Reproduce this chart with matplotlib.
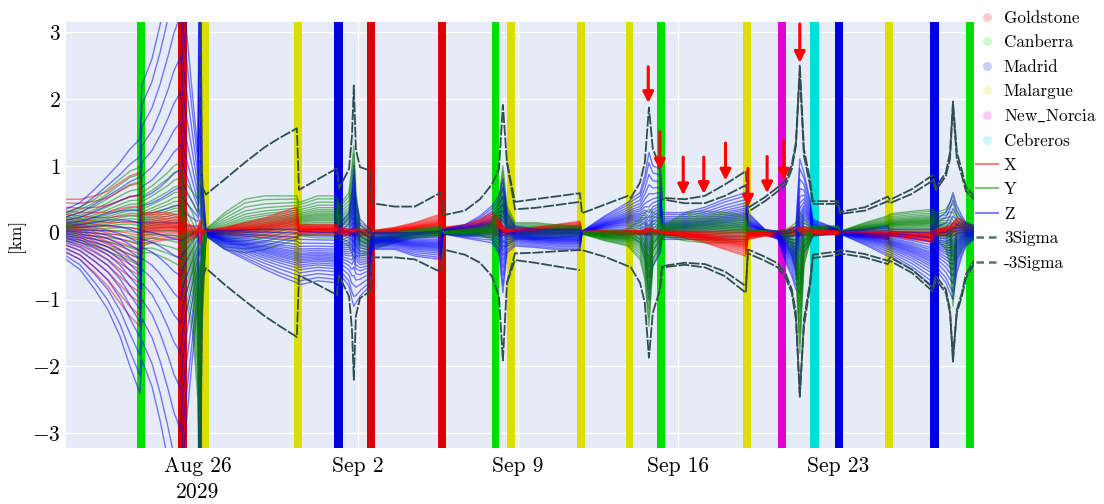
import numpy as np
import matplotlib
matplotlib.use("Agg")
import matplotlib.pyplot as plt
import matplotlib.dates as mdates
from matplotlib.lines import Line2D

nan = np.nan

# ---------------- data ----------------
epoch = np.datetime64("2029-08-26T00:00")

# node times, days after 2029-08-26 00:00
t_days = [-5.77, -5.16, -4.51, -3.94, -3.41, -2.97, -2.54, -2.45, -2.01, -1.66,
          -1.31, -1.05, -0.74, -0.66, -0.22, 0.00, 0.09, 0.17, 0.35, 1.18,
          2.06, 2.93, 3.59, 4.33, 4.42, 5.25, 6.08, 6.17, 6.61, 6.74,
          6.82, 6.91, 7.09, 7.52, 7.61, 8.62, 9.49, 10.63, 10.72, 11.68,
          12.34, 12.86, 13.17, 13.34, 13.52, 13.87, 14.74, 15.62, 16.71, 16.80,
          17.80, 18.81, 18.94, 19.34, 19.55, 19.73, 19.90, 20.21, 20.30, 21.30,
          22.18, 23.05, 23.97, 24.06, 24.80, 25.37, 25.72, 25.98, 26.16, 26.33,
          26.51, 26.77, 26.90, 28.00, 28.09, 29.18, 30.18, 30.27, 31.23, 32.15,
          32.28, 32.72, 32.90, 33.03, 33.20, 33.42, 33.60, 33.95]

# Monte Carlo spread of the X / Y / Z errors [km]: lower and upper edge of each fan
x_lo = [-0.30, -0.40, -0.60, -0.80, -1.05, -1.25, -1.40, -0.20, -0.15, -0.12,
        -0.10, -0.10, -0.10, -0.20, -0.10, -0.05, -0.20, -0.05, -0.03, -0.03,
        -0.05, -0.07, -0.08, -0.10, -0.03, -0.03, -0.03, -0.03, -0.05, -0.05,
        -0.05, -0.05, -0.05, -0.05, -0.02, -0.02, -0.02, -0.02, 0.00, -0.01,
        -0.01, -0.02, -0.05, -0.05, -0.03, -0.02, -0.02, -0.02, -0.02, -0.01,
        -0.03, -0.03, -0.03, -0.03, -0.03, -0.05, -0.03, -0.03, -0.02, -0.08,
        -0.15, -0.25, -0.35, -0.10, -0.05, -0.08, -0.08, -0.05, -0.05, -0.05,
        -0.05, -0.05, -0.03, -0.03, -0.02, -0.06, -0.10, -0.05, -0.10, -0.15,
        -0.05, -0.05, -0.05, -0.05, -0.02, 0.00, 0.00, -0.05]
x_hi = [0.50, 0.50, 0.55, 0.62, 0.75, 0.85, 0.90, 0.30, 0.30, 0.30,
        0.30, 0.28, 0.25, 0.15, 0.10, 0.05, 0.20, 0.05, 0.03, 0.08,
        0.15, 0.22, 0.30, 0.38, 0.12, 0.12, 0.12, 0.08, 0.05, 0.05,
        0.05, 0.05, 0.05, 0.05, 0.03, 0.08, 0.15, 0.28, 0.08, 0.12,
        0.20, 0.30, 0.20, 0.10, 0.05, 0.05, 0.08, 0.12, 0.17, 0.02,
        0.03, 0.03, 0.03, 0.03, 0.05, 0.08, 0.05, 0.03, 0.02, 0.02,
        0.02, 0.02, 0.02, 0.02, 0.02, 0.02, 0.03, 0.08, 0.08, 0.08,
        0.08, 0.08, 0.03, 0.03, 0.02, 0.02, 0.02, 0.02, 0.02, 0.02,
        0.05, 0.08, 0.10, 0.15, 0.22, 0.20, 0.15, 0.10]
y_lo = [-0.12, -0.15, -0.20, -0.28, -0.35, -0.42, -0.50, -0.30, -0.30, -0.35,
        -0.40, -0.45, -0.50, -0.80, -1.50, -2.50, -5.00, -1.50, -0.05, -0.25,
        -0.30, -0.25, -0.18, -0.10, -0.05, -0.08, -0.08, -0.10, -0.20, -0.30,
        -0.40, -0.35, -0.35, -0.30, -0.25, -0.15, -0.08, -0.05, -0.02, -0.05,
        -0.05, -0.10, -0.30, -0.20, -0.20, -0.10, -0.10, -0.08, -0.05, -0.02,
        -0.12, -0.20, -0.25, -0.40, -0.70, -1.40, -0.50, -0.30, -0.05, -0.12,
        -0.15, -0.15, -0.12, -0.03, -0.03, -0.05, -0.15, -0.35, -0.60, -1.80,
        -0.50, -0.15, -0.05, 0.00, -0.02, -0.02, -0.03, -0.02, -0.02, -0.02,
        -0.10, -0.25, -0.50, -1.10, -0.40, -0.25, -0.15, -0.10]
y_hi = [0.30, 0.38, 0.50, 0.65, 0.80, 0.92, 0.98, 0.60, 0.70, 0.80,
        0.90, 1.00, 1.05, 0.80, 0.60, 0.50, 1.00, 0.30, 0.05, 0.30,
        0.50, 0.55, 0.55, 0.55, 0.45, 0.55, 0.55, 0.40, 0.60, 1.00,
        1.30, 0.60, 0.15, 0.05, 0.02, 0.02, 0.05, 0.10, 0.02, 0.05,
        0.08, 0.15, 0.50, 1.00, 0.40, 0.15, 0.15, 0.12, 0.10, 0.02,
        0.02, 0.05, 0.10, 0.20, 0.30, 0.35, 0.30, 0.25, 0.10, 0.30,
        0.32, 0.30, 0.25, 0.05, 0.03, 0.03, 0.05, 0.10, 0.15, 0.30,
        0.20, 0.10, 0.10, 0.10, 0.02, 0.15, 0.25, 0.28, 0.32, 0.35,
        0.30, 0.35, 0.45, 0.55, 0.30, 0.20, 0.15, 0.10]
z_lo = [-0.40, -0.55, -0.85, -1.15, -1.55, -2.00, -2.40, -1.90, -2.30, -2.80,
        -3.40, -3.90, -4.30, -3.40, -1.80, -1.00, -6.00, -1.00, -0.05, -0.25,
        -0.40, -0.55, -0.65, -0.75, -0.78, -0.72, -0.75, -0.60, -0.80, -1.00,
        -1.10, -1.05, -0.95, -0.80, -0.25, -0.25, -0.35, -0.40, -0.02, -0.08,
        -0.12, -0.15, -0.30, -0.90, -0.30, -0.20, -0.22, -0.25, -0.25, -0.02,
        -0.02, -0.05, -0.05, -0.15, -0.40, -1.00, -0.50, -0.30, -0.10, -0.10,
        -0.10, -0.10, -0.10, -0.05, -0.02, -0.10, -0.45, -0.65, -0.85, -0.90,
        -0.30, -0.15, -0.05, -0.02, -0.02, -0.18, -0.35, -0.35, -0.55, -0.80,
        -0.55, -0.75, -0.90, -1.00, -0.60, -0.35, -0.20, -0.10]
z_hi = [0.35, 0.45, 0.65, 0.85, 1.05, 1.25, 1.40, 2.20, 2.60, 3.10,
        3.70, 4.20, 4.60, 3.60, 2.00, 1.20, 6.00, 1.00, 0.05, 0.03,
        0.04, 0.05, 0.05, 0.05, 0.02, 0.00, 0.00, 0.10, 0.30, 0.60,
        1.00, 0.50, 0.20, 0.05, 0.00, 0.00, 0.00, 0.02, 0.05, 0.12,
        0.25, 0.40, 0.55, 0.80, 0.30, 0.10, 0.05, 0.05, 0.05, 0.02,
        0.25, 0.45, 0.50, 0.60, 0.85, 1.20, 1.00, 0.95, 0.30, 0.30,
        0.38, 0.50, 0.60, 0.30, 0.05, 0.02, 0.02, 0.05, 0.10, 1.10,
        0.90, 0.50, 0.20, 0.05, 0.02, 0.05, 0.10, 0.05, 0.05, 0.05,
        0.20, 0.30, 0.45, 0.60, 0.40, 0.25, 0.15, 0.10]

# relative position of each Monte Carlo sample inside the fan
mc_fractions = [0.00, 0.07, 0.15, 0.22, 0.28, 0.33, 0.37, 0.41, 0.44, 0.47,
                0.50, 0.53, 0.56, 0.59, 0.63, 0.67, 0.72, 0.78, 0.85, 0.93, 1.00]

# 3-sigma envelopes [km]
sig_hi = [nan] * 16 + [
    6.00, 0.70, 0.57, 0.80,
    1.05, 1.28, 1.42, 1.56, 0.64, 0.80, 0.96, 0.66, 0.95, 1.45,
    2.20, 1.25, 0.98, 0.93, 0.44, 0.39, 0.39, 0.60, 0.26, 0.33,
    0.50, 0.72, 0.95, 1.91, 1.05, 0.46, 0.50, 0.54, 0.59, 0.29,
    0.42, 0.55, 0.52, 0.75, 1.05, 1.87, 1.25, 1.00, 0.52, 0.50,
    0.55, 0.72, 0.92, 0.37, 0.53, 0.68, 0.78, 1.02, 1.35, 2.50,
    1.25, 0.80, 0.47, 0.47, 0.31, 0.38, 0.54, 0.49, 0.65, 0.86,
    0.68, 0.90, 1.20, 1.96, 1.20, 0.93, 0.68, 0.55]
sig_lo = [nan] * 16 + [
    -6.00, -0.70, -0.53, -0.78,
    -1.02, -1.25, -1.40, -1.56, -0.64, -0.78, -0.93, -0.64, -0.95, -1.45,
    -2.20, -1.25, -0.98, -0.88, -0.37, -0.37, -0.40, -0.59, -0.25, -0.33,
    -0.45, -0.65, -0.95, -1.91, -0.75, -0.31, -0.30, -0.28, -0.26, -0.26,
    -0.36, -0.50, -0.52, -0.75, -1.05, -1.87, -1.20, -0.85, -0.52, -0.48,
    -0.52, -0.65, -0.90, -0.25, -0.36, -0.46, -0.62, -0.85, -1.20, -2.47,
    -1.30, -0.75, -0.33, -0.28, -0.26, -0.32, -0.42, -0.37, -0.55, -0.82,
    -0.64, -0.85, -1.15, -1.93, -1.15, -0.90, -0.62, -0.42]
sig2_hi = [nan] * 44 + [
    1.05, 0.35, 0.37, 0.41, 0.46, nan,
    nan, nan, nan, nan, nan, nan, nan, 1.00, 0.50, 0.44,
    0.44, 0.55, 0.71, 0.31, 0.47, 0.62, 0.72, 0.95, 1.30, 2.40,
    1.15, 0.72, 0.43, 0.43, 0.28, 0.33, 0.47, 0.44, 0.58, 0.78,
    0.63, 0.85, 1.10, 1.90, 1.10, 0.85, 0.62, 0.50]
sig2_lo = [nan] * 44 + [
    -0.75, -0.41, -0.45, -0.50, -0.56, nan,
    nan, nan, nan, nan, nan, nan, nan, -0.85, -0.50, -0.45,
    -0.47, -0.58, -0.80, -0.31, -0.42, -0.52, -0.68, -0.90, -1.30, -2.40,
    -1.40, -0.82, -0.38, -0.33, -0.31, -0.37, -0.47, -0.42, -0.60, -0.88,
    -0.70, -0.90, -1.20, -1.85, -1.20, -0.95, -0.68, -0.47]

# tracking passes (station, start day, end day)
pass_station = ["Canberra", "Goldstone", "Malargue", "Malargue", "Madrid", "Goldstone",
                "Goldstone", "Canberra", "Malargue", "Malargue", "Malargue", "Canberra",
                "Malargue", "New_Norcia", "Cebreros", "Madrid", "Malargue", "Madrid",
                "Canberra"]
pass_start = [-2.67, -0.87, 0.17, 4.20, 5.95, 7.39, 10.50, 12.86, 13.52, 16.58,
              18.72, 20.08, 23.84, 25.37, 26.77, 27.87, 30.05, 32.02, 33.60]
pass_end = [-2.32, -0.48, 0.48, 4.55, 6.34, 7.74, 10.85, 13.17, 13.87, 16.93,
            19.03, 20.43, 24.19, 25.72, 27.17, 28.22, 30.40, 32.42, 33.95]

stations = ["Goldstone", "Canberra", "Madrid", "Malargue", "New_Norcia", "Cebreros"]

# red arrows marking features (day, tail km, tip km)
arrow_day = [19.70, 20.21, 21.23, 22.13, 23.08, 24.06, 24.90, 25.63, 26.33]
arrow_tail = [2.48, 1.51, 1.13, 1.13, 1.34, 0.96, 1.14, 1.36, 3.12]
arrow_tip = [1.94, 0.93, 0.56, 0.58, 0.78, 0.39, 0.59, 0.78, 2.54]

tick_dates = ["2029-08-26", "2029-09-02", "2029-09-09", "2029-09-16", "2029-09-23"]
tick_labels = ["Aug 26\n2029", "Sep 2", "Sep 9", "Sep 16", "Sep 23"]
y_ticks = [-3, -2, -1, 0, 1, 2, 3]

# ---------------- styling ----------------
plt.rcParams["font.family"] = "cmr10"
plt.rcParams["mathtext.fontset"] = "cm"
plt.rcParams["axes.formatter.use_mathtext"] = True

station_colors = {"Goldstone": "#dd0000", "Canberra": "#00dd00", "Madrid": "#0000dd",
                  "Malargue": "#dddd00", "New_Norcia": "#dd00dd", "Cebreros": "#00dddd"}
sigma_color = "#2F4F4F"


def to_num(days):
    d = np.asarray(days, dtype=float)
    dt = epoch + np.round(d * 1440).astype(int).astype("timedelta64[m]")
    return mdates.date2num(dt)


fig = plt.figure(figsize=(11.04, 5.04), dpi=100)
ax = fig.add_axes([66 / 1104, 1 - 448 / 504, (974 - 66) / 1104, (448 - 22) / 504])
ax.set_facecolor("#E5ECF6")
for s in ax.spines.values():
    s.set_visible(False)

tn = to_num(t_days)

# station passes
ps = to_num(pass_start)
pe = to_num(pass_end)
for st, a, b in zip(pass_station, ps, pe):
    ax.axvspan(a, b, color=station_colors[st], lw=0, zorder=1)

# Monte Carlo samples
xl, xh = np.array(x_lo), np.array(x_hi)
yl, yh = np.array(y_lo), np.array(y_hi)
zl, zh = np.array(z_lo), np.array(z_hi)
for f in mc_fractions:
    for lo, hi, col in ((xl, xh, "red"), (yl, yh, "green"), (zl, zh, "blue")):
        ax.plot(tn, lo + f * (hi - lo), color=col, alpha=0.5, lw=1.0, zorder=2)

# sigma envelopes
dash = (0, (6, 1.0))
for arr in (sig_hi, sig_lo, sig2_hi, sig2_lo):
    ax.plot(tn, arr, color=sigma_color, lw=1.3, ls=dash, zorder=3)

# arrows
an = to_num(arrow_day)
for x, y0, y1 in zip(an, arrow_tail, arrow_tip):
    ax.annotate("", xy=(x, y1), xytext=(x, y0),
                arrowprops=dict(arrowstyle="-|>", color="red", lw=2.2,
                                mutation_scale=16, shrinkA=0, shrinkB=0),
                zorder=5)

ax.set_xlim(to_num(-5.77), to_num(33.95))
ax.set_ylim(-3.22, 3.15)
ax.set_xticks(mdates.date2num(np.array(tick_dates, dtype="datetime64[D]")))
ax.set_xticklabels(tick_labels)
for lab in ax.get_xticklabels():
    lab.set_linespacing(1.45)
ax.set_yticks(y_ticks)
ax.set_yticklabels([r"$%d$" % v for v in y_ticks])
ax.tick_params(axis="both", length=0, labelsize=15.5)
ax.tick_params(axis="x", pad=6)
ax.tick_params(axis="y", pad=4)
ax.grid(color="white", lw=1.0)
ax.set_axisbelow(True)
ax.set_ylabel("[km]", fontsize=12.5, labelpad=5)

handles = []
labels = []
for st in stations:
    handles.append(Line2D([], [], ls="", marker="o", markersize=6.5, markeredgewidth=0,
                          color=station_colors[st], alpha=0.2))
    labels.append(r"$\mathrm{New\_Norcia}$" if st == "New_Norcia" else st)
for col, lab in (("red", "X"), ("green", "Y"), ("blue", "Z")):
    handles.append(Line2D([], [], color=col, alpha=0.5, lw=1.5))
    labels.append(lab)
for lab in ("3Sigma", "-3Sigma"):
    handles.append(Line2D([], [], color=sigma_color, alpha=0.8, lw=1.8, ls=(0, (3, 2))))
    labels.append(lab)
ax.legend(handles, labels, loc="upper left", bbox_to_anchor=(0.998, 1.035),
          frameon=False, fontsize=12.3, borderaxespad=0, borderpad=0.2,
          handlelength=1.3, handletextpad=0.35, labelspacing=0.53)

fig.savefig("out.png", dpi=100)
